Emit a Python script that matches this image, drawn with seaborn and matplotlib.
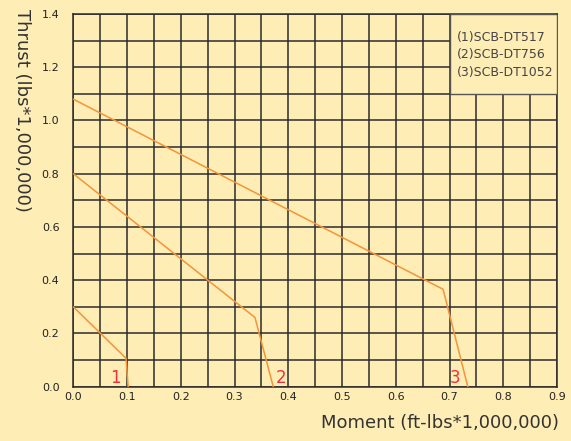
import numpy as np
import pandas as pd
import matplotlib
matplotlib.use("Agg")
import matplotlib.pyplot as plt
import seaborn as sns
from matplotlib.patches import Rectangle
from matplotlib.ticker import MultipleLocator

# capacity curves: moment (ft-lbs*1e6) vs thrust (lbs*1e6)
models = ["(1)SCB-DT517", "(2)SCB-DT756", "(3)SCB-DT1052"]
curve_ids = ["1", "2", "3"]
moment_1 = [0.0, 0.098, 0.102]
thrust_1 = [0.30, 0.107, 0.0]
moment_2 = [0.0, 0.338, 0.372]
thrust_2 = [0.80, 0.26, 0.0]
moment_3 = [0.0, 0.688, 0.734]
thrust_3 = [1.08, 0.366, 0.0]
label_x = [0.078, 0.387, 0.711]

BG = "#feedb5"
ORANGE = "#f5943a"
GRID = "#2b2b2b"

df = pd.concat([
    pd.DataFrame({"moment": m, "thrust": t, "curve": c})
    for m, t, c in [(moment_1, thrust_1, "1"), (moment_2, thrust_2, "2"),
                    (moment_3, thrust_3, "3")]
], ignore_index=True)

sns.set_style("white", {"axes.facecolor": BG, "figure.facecolor": BG})
plt.rcParams["font.family"] = ["DejaVu Sans"]

fig = plt.figure(figsize=(5.71, 4.41), dpi=100)
ax = fig.add_axes([0.1284, 0.1231, 0.8471, 0.8452])

sns.lineplot(data=df, x="moment", y="thrust", units="curve", estimator=None,
             sort=False, color=ORANGE, linewidth=1.1, ax=ax, zorder=4)

ax.set_xlim(0, 0.9)
ax.set_ylim(0, 1.4)
ax.xaxis.set_major_locator(MultipleLocator(0.1))
ax.xaxis.set_minor_locator(MultipleLocator(0.05))
ax.yaxis.set_major_locator(MultipleLocator(0.2))
ax.yaxis.set_minor_locator(MultipleLocator(0.1))
ax.grid(True, which="both", color=GRID, linewidth=1.1, zorder=1)
ax.set_axisbelow(True)
ax.tick_params(which="both", length=0, labelsize=8, colors="#222222")
ax.tick_params(axis="x", pad=4)
ax.tick_params(axis="y", pad=10)
ax.xaxis.set_major_formatter(matplotlib.ticker.FormatStrFormatter("%.1f"))
ax.yaxis.set_major_formatter(matplotlib.ticker.FormatStrFormatter("%.1f"))
for s in ax.spines.values():
    s.set_color(GRID)
    s.set_linewidth(1.1)
ax.set_xlabel("")
ax.set_ylabel("")

# curve numbers
for cid, lx in zip(curve_ids, label_x):
    ax.text(lx, 0.0, cid, color="#f0303c", fontsize=12, ha="center",
            va="bottom", zorder=5)

# model legend box
ax.add_patch(Rectangle((0.7778, 0.7857), 0.2222, 0.2143, transform=ax.transAxes,
                       facecolor=BG, edgecolor="#555555", linewidth=1.0, zorder=3))
for i, name in enumerate(models):
    ax.text(0.792, 0.938 - i * 0.047, name, transform=ax.transAxes,
            fontsize=9, color="#444444", va="center", ha="left", zorder=5)

fig.text(0.771, 0.040, "Moment (ft-lbs*1,000,000)", fontsize=13,
         color="#333333", ha="center", va="center")
fig.text(0.038, 0.75, "Thrust (lbs*1,000,000)", fontsize=13, color="#333333",
         rotation=270, ha="center", va="center")

fig.savefig("out.png", dpi=100, facecolor=BG)
